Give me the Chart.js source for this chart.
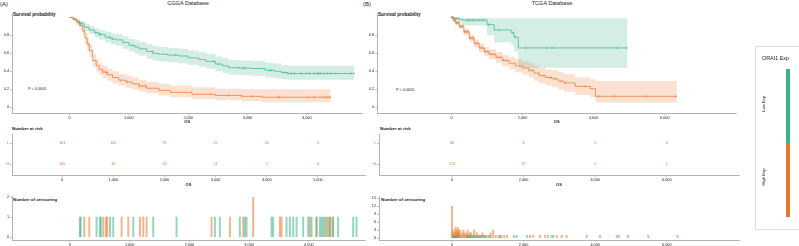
<!DOCTYPE html>
<html>
<head>
<meta charset="utf-8">
<script src="https://cdn.jsdelivr.net/npm/chart.js"></script>
<style>
body { margin: 0; background: #fff; width: 799px; height: 246px; overflow: hidden; position: relative; font-family: "Liberation Sans", Arial, sans-serif; }
canvas { position: absolute; }
.t { position: absolute; white-space: nowrap; color: #1a1a1a; line-height: 1; }
.b { font-weight: bold; }
</style>
</head>
<body>
<div class="t" style="left:0;top:1px;font-size:6px">(A)</div>
<div class="t" style="left:188px;top:1px;font-size:5.6px;transform:translateX(-50%)">CGGA Database</div>
<div class="t" style="left:363px;top:1px;font-size:6px">(B)</div>
<div class="t" style="left:552px;top:1px;font-size:5.6px;transform:translateX(-50%)">TCGA Database</div>
<div class="t b" style="left:13px;top:13px;font-size:4.6px">Survival probability</div>
<div class="t b" style="left:378px;top:13px;font-size:4.6px">Survival probability</div>
<div class="t" style="left:28px;top:88px;font-size:3.8px">P &lt; 0.0001</div>
<div class="t" style="left:396px;top:89px;font-size:3.8px">P &lt; 0.0001</div>
<div class="t b" style="left:12px;top:127px;font-size:4.4px">Number at risk</div>
<div class="t b" style="left:380px;top:127px;font-size:4.4px">Number at risk</div>
<div class="t b" style="left:13px;top:198px;font-size:4.4px">Number of censoring</div>
<div class="t b" style="left:381px;top:198px;font-size:4.4px">Number of censoring</div>

<canvas id="survA"></canvas>
<canvas id="riskA"></canvas>
<canvas id="censA"></canvas>
<canvas id="survB"></canvas>
<canvas id="riskB"></canvas>
<canvas id="censB"></canvas>

<div style="position:absolute;left:755px;top:46px;width:60px;height:182px;border:1px solid #ddd;"></div>
<div class="t" style="left:762px;top:56px;font-size:5.4px">ORAI1 Exp</div>
<div id="legLow" style="position:absolute;left:786px;top:69px;width:4px;height:74px;"></div>
<div id="legHigh" style="position:absolute;left:786px;top:143px;width:4px;height:74px;"></div>
<div class="t" style="left:764px;top:104px;font-size:4.2px;transform:translate(-50%,-50%) rotate(-90deg)">Low Exp</div>
<div class="t" style="left:764px;top:177px;font-size:4.2px;transform:translate(-50%,-50%) rotate(-90deg)">High Exp</div>

<script>
// ---- CGGA (A) ----
var tA_low  = [0, 60, 120, 170, 250, 330, 420, 500, 600, 700, 785, 900, 1000, 1100, 1170, 1300, 1400, 1500, 1650, 1840, 2000, 2175, 2300, 2460, 2580, 2680, 2850, 3070, 3300, 3450, 3570, 3680, 4800];
var sA_low  = [1.0, 0.98, 0.95, 0.93, 0.89, 0.86, 0.83, 0.81, 0.78, 0.76, 0.75, 0.72, 0.69, 0.67, 0.65, 0.62, 0.60, 0.59, 0.58, 0.57, 0.55, 0.53, 0.51, 0.48, 0.46, 0.44, 0.435, 0.43, 0.41, 0.40, 0.385, 0.375, 0.375];
var hiA_low = [1.0, 0.995, 0.975, 0.96, 0.93, 0.905, 0.88, 0.86, 0.84, 0.82, 0.815, 0.79, 0.76, 0.745, 0.725, 0.70, 0.68, 0.67, 0.66, 0.65, 0.63, 0.615, 0.595, 0.565, 0.545, 0.525, 0.52, 0.515, 0.495, 0.485, 0.47, 0.46, 0.46];
var loA_low = [1.0, 0.965, 0.925, 0.90, 0.85, 0.815, 0.78, 0.755, 0.72, 0.70, 0.685, 0.65, 0.62, 0.595, 0.575, 0.54, 0.52, 0.51, 0.50, 0.49, 0.47, 0.45, 0.43, 0.40, 0.38, 0.36, 0.355, 0.35, 0.33, 0.32, 0.31, 0.305, 0.305];

var tA_high  = [0, 60, 120, 170, 223, 260, 300, 335, 390, 450, 500, 558, 640, 725, 830, 948, 1060, 1170, 1300, 1506, 1700, 2065, 2460, 2900, 3240, 4400];
var sA_high  = [1.0, 0.98, 0.95, 0.91, 0.85, 0.77, 0.70, 0.63, 0.52, 0.46, 0.42, 0.39, 0.36, 0.33, 0.30, 0.28, 0.26, 0.235, 0.21, 0.187, 0.165, 0.143, 0.13, 0.12, 0.11, 0.11];
var hiA_high = [1.0, 1.0, 0.985, 0.955, 0.90, 0.83, 0.765, 0.70, 0.59, 0.53, 0.49, 0.46, 0.43, 0.40, 0.37, 0.35, 0.33, 0.305, 0.28, 0.26, 0.24, 0.22, 0.205, 0.20, 0.20, 0.20];
var loA_high = [1.0, 0.955, 0.915, 0.865, 0.80, 0.70, 0.63, 0.56, 0.45, 0.395, 0.355, 0.325, 0.295, 0.265, 0.24, 0.215, 0.195, 0.175, 0.155, 0.13, 0.11, 0.09, 0.075, 0.065, 0.055, 0.055];

var cTA_low  = [167, 179, 446, 502, 519, 670, 725, 1060, 1395, 1785, 2427, 2510, 2845, 2929, 2957, 3375, 3403, 3626, 3682, 3738, 3794, 3905, 3989, 4045, 4128, 4184, 4212, 4240, 4296, 4351, 4407, 4491, 4742, 4798];
var cNA_low  = [1, 1, 1, 1, 1, 1, 1, 1, 1, 1, 1, 1, 1, 1, 1, 1, 1, 1, 1, 1, 1, 1, 1, 1, 1, 1, 1, 1, 1, 1, 1, 1, 1, 1];
var cTA_high = [240, 324, 558, 603, 625, 865, 977, 1172, 1228, 1283, 2371, 2678, 2901, 3068, 3515, 3543, 4017, 4128, 4268, 4324, 4360, 4400];
var cNA_high = [1, 1, 1, 1, 1, 1, 1, 1, 1, 1, 1, 1, 1, 2, 1, 1, 1, 1, 1, 1, 1, 1];

var riskTimesA = [0, 1000, 2000, 3000, 4000, 5000];
var riskA_low  = [163, 102, 76, 55, 20, 0];
var riskA_high = [145, 32, 18, 11, 5, 0];
var xTicksA = [0, 1000, 2000, 3000, 4000];
var xTicksRiskA = [0, 1000, 2000, 3000, 4000, 5000];
var censTicksA = [0, 1, 2];

// ---- TCGA (B) ----
var tB_low  = [0, 80, 200, 300, 1000, 1200, 1680, 1760, 1880, 4950];
var sB_low  = [1.0, 0.99, 0.98, 0.97, 0.92, 0.86, 0.83, 0.78, 0.66, 0.66];
var hiB_low = [1.0, 1.0, 1.0, 0.995, 0.99, 0.99, 0.99, 0.99, 0.99, 0.99];
var loB_low = [1.0, 0.97, 0.94, 0.91, 0.80, 0.72, 0.69, 0.62, 0.44, 0.44];

var tB_high  = [0, 50, 120, 220, 350, 500, 640, 780, 920, 1060, 1250, 1430, 1620, 1800, 2000, 2180, 2320, 2460, 2650, 2830, 3000, 3160, 3480, 3900, 4050, 6340];
var sB_high  = [1.0, 0.97, 0.94, 0.90, 0.84, 0.77, 0.71, 0.66, 0.62, 0.59, 0.555, 0.52, 0.49, 0.46, 0.435, 0.41, 0.38, 0.35, 0.33, 0.315, 0.29, 0.27, 0.23, 0.205, 0.12, 0.12];
var hiB_high = [1.0, 0.99, 0.965, 0.93, 0.875, 0.81, 0.755, 0.71, 0.67, 0.645, 0.615, 0.585, 0.56, 0.535, 0.51, 0.49, 0.465, 0.44, 0.42, 0.41, 0.39, 0.37, 0.33, 0.31, 0.29, 0.29];
var loB_high = [1.0, 0.95, 0.915, 0.87, 0.805, 0.73, 0.665, 0.61, 0.57, 0.535, 0.495, 0.455, 0.42, 0.385, 0.36, 0.33, 0.295, 0.265, 0.24, 0.22, 0.195, 0.17, 0.135, 0.11, 0.05, 0.05];

var cTB_low  = [40, 95, 140, 190, 430, 480, 530, 590, 650, 720, 780, 850, 920, 1050, 1340, 1730, 1800, 2100, 2680, 2830, 4660, 4920];
var cNB_low  = [1, 1, 1, 1, 1, 1, 1, 1, 1, 1, 1, 1, 1, 1, 1, 1, 1, 1, 1, 1, 1, 1];
var cTB_high = [0, 20, 40, 60, 80, 100, 120, 140, 160, 180, 200, 230, 260, 290, 320, 350, 380, 410, 440, 470, 500, 540, 580, 620, 660, 700, 750, 800, 850, 900, 960, 1020, 1080, 1150, 1220, 1300, 1380, 1460, 1540, 2180, 2272, 2458, 2600, 2784, 2924, 3063, 3203, 3762, 4134, 4600, 5484, 6300];
var cNB_high = [12, 2, 3, 1, 2, 4, 3, 2, 4, 3, 2, 3, 1, 2, 3, 2, 1, 2, 3, 1, 2, 2, 1, 3, 1, 2, 1, 1, 2, 1, 1, 1, 2, 3, 1, 1, 1, 1, 1, 1, 1, 1, 1, 1, 1, 1, 1, 1, 1, 1, 1, 1];

var riskTimesB = [0, 2000, 4000, 6000];
var riskB_low  = [66, 6, 2, 0];
var riskB_high = [274, 37, 5, 1];
var xTicksB = [0, 2000, 4000, 6000];
var censTicksB = [0, 3, 6, 9, 12, 15];

var survTicks = [0, 0.2, 0.4, 0.6, 0.8];
var strata = ['L', 'H'];

var green = '#3BB28A', orange = '#E8772E';
var greenFill = 'rgba(59,178,138,0.22)', orangeFill = 'rgba(232,119,46,0.22)';

document.getElementById('legLow').style.background = green;
document.getElementById('legHigh').style.background = orange;

Chart.defaults.font.family = '"Liberation Sans", Arial, sans-serif';
Chart.defaults.color = '#222';

function pts(ts, vs) { return ts.map(function (t, i) { return { x: t, y: vs[i] }; }); }

function survAt(ts, ss, t) {
  var v = ss[0];
  for (var i = 0; i < ts.length; i++) if (ts[i] <= t) v = ss[i];
  return v;
}

function censorPts(cts, ts, ss) {
  return cts.map(function (t) { return { x: t, y: survAt(ts, ss, t) }; });
}

var riskText = {
  id: 'riskText',
  afterDatasetsDraw: function (chart) {
    var ctx = chart.ctx;
    chart.data.datasets.forEach(function (ds, i) {
      if (!ds.labels) return;
      var meta = chart.getDatasetMeta(i);
      ctx.save();
      ctx.fillStyle = ds.textColor;
      ctx.font = '3.8px "Liberation Sans", Arial, sans-serif';
      ctx.textAlign = 'center';
      ctx.textBaseline = 'middle';
      meta.data.forEach(function (p, j) { ctx.fillText(String(ds.labels[j]), p.x, p.y); });
      ctx.restore();
    });
  }
};

function xAxis(min, max, ticks, title) {
  return {
    type: 'linear', min: min, max: max, offset: false,
    afterBuildTicks: function (s) { s.ticks = ticks.map(function (v) { return { value: v }; }); },
    ticks: { autoSkip: false, maxRotation: 0, padding: 0.5, font: { size: 3.8 }, color: '#222',
             callback: function (v) { return v.toLocaleString('en-US'); } },
    grid: { drawOnChartArea: false, offset: false, tickLength: 2, color: '#999', lineWidth: 0.6 },
    border: { color: '#aaa', width: 0.9 },
    title: { display: !!title, text: 'OS', font: { size: 4, weight: 'bold' }, padding: { top: 0, bottom: 1 } }
  };
}

function yAxis(min, max, ticks, labelFn, colorFn) {
  return {
    type: 'linear', min: min, max: max,
    afterBuildTicks: function (s) { s.ticks = ticks.map(function (v) { return { value: v }; }); },
    ticks: { autoSkip: false, padding: 1, font: { size: 3.8 }, color: colorFn || '#222', callback: labelFn },
    grid: { drawOnChartArea: false, tickLength: 2, color: '#999', lineWidth: 0.6 },
    border: { color: '#aaa', width: 0.9 }
  };
}

function place(id, box, config) {
  var c = document.getElementById(id);
  var pt = 3, pr = 2;
  c.width = box.R - box.L + box.yw + pr;
  c.height = box.B - box.T + pt + box.xh;
  c.style.left = (box.L - box.yw) + 'px';
  c.style.top = (box.T - pt) + 'px';
  config.options.responsive = false;
  config.options.animation = false;
  config.options.events = [];
  config.options.layout = { padding: { top: pt, right: pr, left: 0, bottom: 0 } };
  config.options.plugins = { legend: { display: false }, tooltip: { enabled: false } };
  config.options.scales.x.afterFit = function (s) { s.height = box.xh; };
  config.options.scales.y.afterFit = function (s) { s.width = box.yw; };
  return new Chart(c, config);
}

function band(ts, vs, color, fill, order) {
  return { data: pts(ts, vs), stepped: true, borderWidth: 0, borderColor: 'transparent', pointRadius: 0,
           fill: fill ? '-1' : false, backgroundColor: color, order: order };
}

function survChart(id, box, xr, xt, d) {
  return place(id, box, {
    type: 'line',
    data: { datasets: [
      band(d.tL, d.loL, greenFill, false, 6),
      band(d.tL, d.hiL, greenFill, true, 6),
      band(d.tH, d.loH, orangeFill, false, 5),
      band(d.tH, d.hiH, orangeFill, true, 5),
      { data: pts(d.tL, d.sL), stepped: true, borderColor: green, borderWidth: 0.7, pointRadius: 0, fill: false, order: 3 },
      { data: pts(d.tH, d.sH), stepped: true, borderColor: orange, borderWidth: 0.7, pointRadius: 0, fill: false, order: 2 },
      { type: 'scatter', showLine: false, data: censorPts(d.cL, d.tL, d.sL), pointStyle: 'line', rotation: 90,
        pointRadius: 1.4, borderColor: green, borderWidth: 0.5, order: 1 },
      { type: 'scatter', showLine: false, data: censorPts(d.cH, d.tH, d.sH), pointStyle: 'line', rotation: 90,
        pointRadius: 1.4, borderColor: orange, borderWidth: 0.5, order: 0 }
    ]},
    options: { scales: {
      x: xAxis(xr[0], xr[1], xt, true),
      y: yAxis(-0.066, 1.044, survTicks, function (v) { return String(v); })
    }}
  });
}

function riskChart(id, box, xr, xt, times, low, high) {
  return place(id, box, {
    type: 'scatter',
    data: { datasets: [
      { data: times.map(function (t) { return { x: t, y: 2 }; }), labels: low, textColor: green, pointRadius: 0 },
      { data: times.map(function (t) { return { x: t, y: 1 }; }), labels: high, textColor: orange, pointRadius: 0 }
    ]},
    options: { scales: {
      x: xAxis(xr[0], xr[1], xt, true),
      y: yAxis(0.476, 2.43, [1, 2], function (v) { return v === 2 ? strata[0] : strata[1]; },
               function (c) { return c.tick && c.tick.value === 2 ? green : orange; })
    }},
    plugins: [riskText]
  });
}

function censChart(id, box, xr, xt, yr, yt, cL, nL, cH, nH) {
  return place(id, box, {
    type: 'bar',
    data: { datasets: [
      { data: pts(cL, nL), backgroundColor: 'rgba(59,178,138,0.55)', barThickness: 1.3, grouped: false },
      { data: pts(cH, nH), backgroundColor: 'rgba(232,119,46,0.55)', barThickness: 1.3, grouped: false }
    ]},
    options: { scales: {
      x: xAxis(xr[0], xr[1], xt, false),
      y: yAxis(yr[0], yr[1], yt, function (v) { return String(v); })
    }}
  });
}

survChart('survA', { L: 12, T: 12, R: 365, B: 113, yw: 12, xh: 12 }, [-970, 4940], xTicksA,
  { tL: tA_low, sL: sA_low, hiL: hiA_low, loL: loA_low, tH: tA_high, sH: sA_high, hiH: hiA_high, loH: loA_high, cL: cTA_low, cH: cTA_high });
riskChart('riskA', { L: 12, T: 134, R: 365, B: 175, yw: 12, xh: 13 }, [-980, 5920], xTicksRiskA, riskTimesA, riskA_low, riskA_high);
censChart('censA', { L: 12, T: 196, R: 365, B: 240, yw: 12, xh: 6 }, [-970, 4940], xTicksA, [-0.15, 2.05], censTicksA,
  cTA_low, cNA_low, cTA_high, cNA_high);

survChart('survB', { L: 377, T: 12, R: 739, B: 113, yw: 12, xh: 12 }, [-2095, 8017], xTicksB,
  { tL: tB_low, sL: sB_low, hiL: hiB_low, loL: loB_low, tH: tB_high, sH: sB_high, hiH: hiB_high, loH: loB_high, cL: cTB_low, cH: cTB_high });
riskChart('riskB', { L: 379, T: 134, R: 739, B: 175, yw: 12, xh: 13 }, [-2039, 8017], xTicksB, riskTimesB, riskB_low, riskB_high);
censChart('censB', { L: 379, T: 196, R: 739, B: 240, yw: 12, xh: 6 }, [-2039, 8017], xTicksB, [-0.75, 15.75], censTicksB,
  cTB_low, cNB_low, cTB_high, cNB_high);
</script>
</body>
</html>
